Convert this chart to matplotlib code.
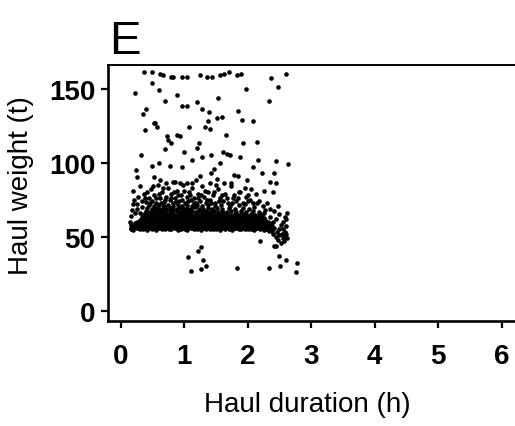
import matplotlib
matplotlib.use("Agg")
import matplotlib.pyplot as plt

plt.rcParams['font.family'] = ['Liberation Sans', 'DejaVu Sans']

# ---- data: haul duration (h), haul weight (t) ----
# dense band near the 55 t floor
band_pts = [
    (0.16,55.2),(0.20,54.6),(0.25,55.8),(0.31,55.0),(0.35,55.4),(0.41,54.8),(0.45,55.6),(0.50,55.1),(0.56,54.7),(0.61,55.9),
    (0.65,55.3),(0.70,54.9),(0.76,55.5),(0.80,55.0),(0.86,55.7),(0.91,54.6),(0.95,55.4),(1.01,55.2),(1.05,54.8),(1.10,55.6),
    (1.16,55.0),(1.20,55.3),(1.26,54.7),(1.30,55.8),(1.35,55.1),(1.41,54.9),(1.45,55.5),(1.50,55.2),(1.56,54.6),(1.60,55.7),
    (1.65,55.0),(1.71,55.4),(1.75,54.8),(1.80,55.6),(1.86,55.1),(1.90,54.9),(1.95,55.5),(2.01,55.0),(2.05,55.3),(2.10,54.7),
    (2.15,55.6),(2.20,55.2),(2.26,54.8),(2.30,55.4),(2.35,54.9),
    (0.18,57.1),(0.23,56.4),(0.28,57.6),(0.33,56.8),(0.38,57.9),(0.43,56.3),(0.48,57.3),(0.53,56.9),(0.58,57.7),(0.63,56.5),
    (0.68,57.2),(0.73,57.8),(0.78,56.6),(0.83,57.4),(0.88,56.9),(0.93,57.6),(0.98,56.4),(1.03,57.1),(1.08,57.8),(1.13,56.7),
    (1.18,57.3),(1.23,56.5),(1.28,57.7),(1.33,57.0),(1.38,56.4),(1.43,57.5),(1.48,56.8),(1.53,57.9),(1.58,56.6),(1.63,57.2),
    (1.68,57.6),(1.73,56.5),(1.78,57.3),(1.83,56.9),(1.88,57.8),(1.93,56.4),(1.98,57.1),(2.03,57.6),(2.08,56.7),(2.13,57.4),
    (2.18,56.8),(2.23,57.5),(2.28,56.6),(2.33,57.2),(2.38,56.9),
    (0.22,59.4),(0.29,58.6),(0.34,59.8),(0.39,58.9),(0.44,59.5),(0.49,58.4),(0.54,59.9),(0.59,59.1),(0.64,58.5),(0.69,59.6),
    (0.74,59.0),(0.79,58.7),(0.84,59.8),(0.89,59.2),(0.94,58.4),(0.99,59.5),(1.04,58.9),(1.09,59.7),(1.14,58.6),(1.19,59.3),
    (1.24,59.9),(1.29,58.8),(1.34,59.4),(1.39,58.5),(1.44,59.7),(1.49,59.0),(1.54,58.6),(1.59,59.6),(1.64,59.1),(1.69,58.4),
    (1.74,59.8),(1.79,58.9),(1.84,59.4),(1.89,58.7),(1.94,59.9),(1.99,59.2),(2.04,58.5),(2.09,59.6),(2.14,58.8),(2.19,59.3),
    (2.24,58.6),(2.29,59.7),(2.34,58.9),
    (0.30,61.2),(0.36,60.5),(0.41,61.7),(0.46,60.8),(0.51,61.4),(0.56,60.4),(0.61,61.9),(0.66,61.0),(0.71,60.6),(0.76,61.6),
    (0.81,60.9),(0.86,61.3),(0.91,60.5),(0.96,61.8),(1.01,61.1),(1.06,60.7),(1.11,61.5),(1.16,60.4),(1.21,61.2),(1.26,61.8),
    (1.31,60.6),(1.36,61.4),(1.41,60.9),(1.46,61.7),(1.51,60.5),(1.56,61.1),(1.61,61.6),(1.66,60.8),(1.71,61.3),(1.76,60.4),
    (1.81,61.9),(1.86,61.0),(1.91,60.6),(1.96,61.5),(2.01,60.9),(2.06,61.4),(2.11,60.7),(2.16,61.8),(2.22,60.8),(2.28,61.3),
    (0.33,63.1),(0.39,62.6),(0.44,63.7),(0.49,62.9),(0.54,63.4),(0.59,62.5),(0.64,63.8),(0.69,63.0),(0.74,62.7),(0.79,63.6),
    (0.84,62.8),(0.89,63.3),(0.94,62.4),(0.99,63.9),(1.04,63.1),(1.09,62.6),(1.14,63.5),(1.19,62.9),(1.24,63.4),(1.29,62.5),
    (1.34,63.7),(1.39,63.0),(1.44,62.6),(1.49,63.5),(1.54,62.8),(1.59,63.2),(1.64,62.5),(1.69,63.8),(1.74,63.0),(1.79,62.7),
    (1.84,63.4),(1.89,62.9),(1.95,63.6),(2.00,62.6),(2.06,63.3),(2.12,62.8),(2.18,63.5),(2.25,62.9),
    (0.37,65.2),(0.43,64.6),(0.48,65.7),(0.53,64.9),(0.58,65.4),(0.63,64.5),(0.68,65.8),(0.73,65.0),(0.78,64.7),(0.83,65.5),
    (0.88,64.8),(0.93,65.3),(0.98,64.6),(1.03,65.9),(1.08,65.1),(1.13,64.7),(1.18,65.4),(1.23,64.9),(1.28,65.6),(1.33,64.5),
    (1.38,65.2),(1.43,65.8),(1.48,64.8),(1.53,65.4),(1.58,64.6),(1.63,65.7),(1.68,65.0),(1.74,64.7),(1.80,65.5),(1.86,64.9),
    (1.92,65.3),(1.98,64.6),(2.05,65.6),(2.12,64.8),(2.20,65.2),
    (0.40,67.3),(0.46,66.6),(0.52,67.6),(0.57,66.9),(0.62,67.4),(0.67,66.5),(0.72,67.8),(0.77,67.0),(0.82,66.7),(0.88,67.5),
    (0.93,66.8),(0.98,67.3),(1.03,66.6),(1.08,67.7),(1.13,67.0),(1.18,66.7),(1.23,67.4),(1.29,66.9),(1.35,67.6),(1.41,66.5),
    (1.47,67.2),(1.53,66.8),(1.60,67.5),(1.67,66.7),(1.74,67.3),(1.82,66.9),(1.90,67.6),(1.97,66.6),(2.08,67.2),(2.18,66.8),
    (0.42,69.2),(0.49,68.7),(0.55,69.6),(0.61,68.8),(0.66,69.4),(0.72,68.6),(0.77,69.7),(0.83,69.0),(0.88,68.6),(0.94,69.5),
    (1.00,68.9),(1.05,69.3),(1.11,68.7),(1.17,69.8),(1.23,69.0),(1.30,68.6),(1.37,69.4),(1.44,68.8),(1.52,69.6),(1.60,68.7),
    (1.70,69.3),(1.80,68.9),(1.92,69.5),(2.02,68.7),
    (0.45,71.1),(0.53,70.6),(0.60,71.5),(0.68,70.8),(0.75,71.3),(0.82,70.5),(0.90,71.6),(0.97,70.9),(1.04,71.4),(1.12,70.7),
    (1.20,71.2),(1.28,70.6),(1.38,71.5),(1.48,70.8),(1.58,71.3),(1.72,70.7),(1.86,71.2),
]

# extra hauls filling the densest part of the band (56-64 t)
fill_pts = [
    (0.17,56.0),(0.22,56.3),(0.27,55.8),(0.32,56.2),(0.37,55.9),(0.42,56.4),(0.47,56.0),(0.52,55.7),(0.57,56.3),(0.62,56.1),
    (0.67,55.8),(0.72,56.4),(0.77,56.0),(0.82,56.2),(0.87,55.9),(0.92,56.3),(0.97,56.1),(1.02,55.8),(1.07,56.4),(1.12,56.0),
    (1.17,56.2),(1.22,55.9),(1.27,56.3),(1.32,56.1),(1.37,55.7),(1.42,56.2),(1.47,56.0),(1.52,56.4),(1.57,55.9),(1.62,56.1),
    (1.67,56.3),(1.72,55.8),(1.77,56.2),(1.82,56.0),(1.87,56.4),(1.92,55.9),(1.97,56.1),(2.02,56.3),(2.07,55.8),(2.12,56.2),
    (2.17,56.0),(2.22,56.4),(2.27,55.9),(2.32,56.1),(2.37,55.8),
    (0.20,58.1),(0.25,57.9),(0.31,58.3),(0.36,58.0),(0.41,58.2),(0.46,57.8),(0.51,58.4),(0.56,58.0),(0.61,58.2),(0.66,57.9),
    (0.71,58.3),(0.76,58.1),(0.81,57.8),(0.86,58.2),(0.91,58.0),(0.96,58.4),(1.01,57.9),(1.06,58.1),(1.11,58.3),(1.16,57.8),
    (1.21,58.2),(1.26,58.0),(1.31,58.4),(1.36,57.9),(1.41,58.1),(1.46,58.3),(1.51,57.8),(1.56,58.2),(1.61,58.0),(1.66,58.4),
    (1.71,57.9),(1.76,58.1),(1.81,58.3),(1.86,57.8),(1.91,58.2),(1.96,58.0),(2.01,58.4),(2.06,57.9),(2.11,58.1),(2.16,58.3),
    (2.21,57.8),(2.26,58.2),(2.31,58.0),(2.36,58.3),
    (0.26,60.0),(0.32,60.3),(0.37,59.8),(0.42,60.2),(0.47,60.0),(0.52,60.4),(0.57,59.9),(0.62,60.1),(0.67,60.3),(0.72,59.8),
    (0.77,60.2),(0.82,60.0),(0.87,60.4),(0.92,59.9),(0.97,60.1),(1.02,60.3),(1.07,59.8),(1.12,60.2),(1.17,60.0),(1.22,60.4),
    (1.27,59.9),(1.32,60.1),(1.37,60.3),(1.42,59.8),(1.47,60.2),(1.52,60.0),(1.57,60.4),(1.62,59.9),(1.67,60.1),(1.72,60.3),
    (1.77,59.8),(1.82,60.2),(1.87,60.0),(1.92,60.4),(1.97,59.9),(2.02,60.1),(2.07,60.3),(2.12,59.8),(2.17,60.2),(2.22,60.0),
    (2.27,60.4),(2.32,59.9),
    (0.34,62.0),(0.38,62.3),(0.43,61.8),(0.48,62.2),(0.53,62.0),(0.58,62.4),(0.63,61.9),(0.68,62.1),(0.73,62.3),(0.78,61.8),
    (0.83,62.2),(0.88,62.0),(0.93,62.4),(0.98,61.9),(1.03,62.1),(1.08,62.3),(1.13,61.8),(1.18,62.2),(1.23,62.0),(1.28,62.4),
    (1.33,61.9),(1.38,62.1),(1.43,62.3),(1.48,61.8),(1.53,62.2),(1.58,62.0),(1.63,62.4),(1.68,61.9),(1.73,62.1),(1.78,62.3),
    (1.83,61.8),(1.88,62.2),(1.93,62.0),(1.98,62.4),(2.03,61.9),(2.09,62.1),(2.14,62.3),(2.20,61.8),(2.26,62.2),
    (0.35,64.0),(0.41,64.3),(0.46,63.8),(0.51,64.2),(0.56,64.0),(0.61,64.4),(0.66,63.9),(0.71,64.1),(0.76,64.3),(0.81,63.8),
    (0.86,64.2),(0.91,64.0),(0.96,64.4),(1.01,63.9),(1.06,64.1),(1.11,64.3),(1.16,63.8),(1.21,64.2),(1.26,64.0),(1.31,64.4),
    (1.36,63.9),(1.41,64.1),(1.46,64.3),(1.51,63.8),(1.56,64.2),(1.61,64.0),(1.66,64.4),(1.71,63.9),(1.77,64.1),(1.83,64.3),
    (1.89,63.8),(1.95,64.2),(2.02,64.0),(2.09,64.4),(2.16,63.9),
]

# speckled zone above the band
mid_pts = [
    (0.20,81),(0.21,75),(0.25,72),(0.28,77),(0.33,74),(0.36,79),(0.40,73.5),(0.44,76),(0.47,82),(0.50,74),
    (0.53,78),(0.56,73),(0.58,85),(0.62,76),(0.65,80),(0.68,73.5),(0.71,77),(0.74,83),(0.77,74.5),(0.80,79),
    (0.83,72.5),(0.86,76),(0.89,81),(0.92,74),(0.95,78),(0.98,85),(1.01,73),(1.04,77),(1.07,80),(1.10,74.5),
    (1.13,83),(1.16,76),(1.19,72.5),(1.22,79),(1.25,74),(1.28,84),(1.31,77),(1.34,73),(1.37,80),(1.41,75),
    (1.45,78),(1.49,73),(1.53,82),(1.57,76),(1.61,74),(1.65,79),(1.69,73),(1.73,84),(1.77,76),(1.82,74),
    (1.87,80),(1.92,73),(1.97,77),(2.03,75),(2.08,72.5),(2.13,79),(2.18,74),(2.24,71),(2.30,73),(2.35,69),
    (0.30,84),(0.15,60),(0.16,58),(0.62,88),(0.85,87),(1.18,88),(1.40,86),(1.63,86),(2.25,66),(2.22,64),
    (0.17,64),(0.18,68),(0.19,72),(0.22,66),(0.26,69),(0.30,66),(0.34,70),(0.38,76),(0.42,80),(0.46,72.5),
    (0.51,84),(0.55,76),(0.60,79),(0.64,73),(0.67,83),(0.70,75),(0.79,76),(0.84,80),(0.87,73.5),(0.91,78),
    (0.97,75),(1.00,81),(1.06,74),(1.09,78),(1.15,73),(1.21,76),(1.27,78),(1.32,81),(1.36,75),(1.43,73),
    (1.47,80),(1.55,74),(1.59,78),(1.67,76),(1.75,72.5),(1.79,78),(1.85,76),(1.95,72),(2.00,74),(2.10,70),
    (2.15,72.5),(2.27,68),(2.05,82),(1.12,86),(0.72,86),(1.50,85),(1.95,83),
]

# right-hand tail of the band
tail_pts = [
    (2.38,54),(2.40,52),(2.42,56),(2.44,50),(2.46,53),(2.48,48),(2.50,55),(2.50,51),(2.52,46),(2.53,58),
    (2.54,52),(2.55,49),(2.56,55),(2.57,47),(2.58,53),(2.59,50),(2.60,57),(2.61,52),(2.62,49),(2.40,60),
    (2.45,62),(2.50,65),(2.55,60),(2.60,62),(2.62,66),(2.58,63),(2.35,63),(2.42,67),(2.30,58),(2.33,54),
    (2.36,57),
]

# sparse upper points
upper_pts = [
    (0.37,161),(0.49,161),(0.62,160),(0.67,159),(0.80,158),(0.83,158),(0.96,158),(1.04,158),
    (1.25,159),(1.36,158),(1.44,158),(1.57,159),(1.62,160),(1.70,161),(1.83,159),(1.90,160),
    (2.36,157),(2.47,151),(2.60,160),
    (0.22,147),(0.49,154),(0.61,149),(0.69,142),(0.88,146),(0.96,138),(1.04,138),(1.20,141),(1.28,136),
    (1.39,134),(1.37,128),(1.54,144),(1.60,131),(1.85,135),(1.98,150),(2.09,128),(2.33,142),(1.91,129),
    (0.35,133),(0.40,136),(0.38,122),(0.52,127),(0.54,127),(0.57,124),(0.73,118),(0.75,115),(0.70,109),
    (0.80,113),(0.88,119),(0.93,118),(0.99,107),(1.07,124),(1.20,110),(1.24,113),(1.33,124),(1.40,123),
    (1.52,130),(1.66,119),(1.61,107),(1.93,113),(2.15,114),
    (0.32,105),(0.24,95),(0.25,90),(0.49,98),(0.60,100),(0.78,98),(0.96,97),(1.12,102),(1.28,104),
    (1.42,105),(1.47,96),(1.42,93),(1.57,100),(1.67,106),(1.72,105),(1.88,104),(2.09,97),(2.17,102),
    (2.23,93),(2.41,93),(2.44,101),(2.63,99),(2.35,87),(2.44,86),(2.40,80),(2.47,71),(1.78,92),(1.85,91),
    (1.99,88),(0.52,90),(0.83,87),(0.94,86),(1.04,86),(1.25,91),(1.52,89),(1.73,86),(1.88,80),(2.01,78),
    (2.26,81),
]

# low outliers
low_pts = [
    (1.06,36),(1.11,27),(1.22,40),(1.27,43),(1.26,28),(1.34,30),(1.30,34),(1.83,29),(2.19,47),(2.34,29),
    (2.50,37),(2.51,30),(2.61,34),(2.76,26),(2.77,32),(2.41,44),(2.45,44),
]

x_ticks = [0, 1, 2, 3, 4, 5, 6]
y_ticks = [0, 50, 100, 150]

W, H = 515, 427
fig = plt.figure(figsize=(W / 100, H / 100), dpi=100)
ax = fig.add_axes([108 / W, 105 / H, 1 - 108 / W, (322 - 66) / H])

for pts in (band_pts, fill_pts, mid_pts, tail_pts, upper_pts, low_pts):
    xs = [p[0] for p in pts]
    ys = [p[1] for p in pts]
    ax.scatter(xs, ys, s=11, c='black', linewidths=0, marker='o')

ax.set_xlim(-0.2, 6.21)
ax.set_ylim(-7, 166)
ax.set_xticks(x_ticks)
ax.set_yticks(y_ticks)
ax.spines['right'].set_visible(False)
ax.spines['top'].set_linewidth(1.4)
ax.spines['left'].set_linewidth(1.9)
ax.spines['bottom'].set_linewidth(1.9)
ax.tick_params(axis='both', direction='out', length=5, width=1.6, labelsize=20)
ax.tick_params(axis='x', pad=11)
ax.tick_params(axis='y', pad=4)
for lab in ax.get_xticklabels() + ax.get_yticklabels():
    lab.set_fontweight('bold')

fig.text(21 / W, 1 - 186 / H, 'Haul weight (t)', rotation=90, ha='center', va='center', fontsize=20)
fig.text(307 / W, 1 - 405 / H, 'Haul duration (h)', ha='center', va='center', fontsize=20)
fig.text(109 / W, 1 - 53.5 / H, 'E', ha='left', va='baseline', fontsize=34)

fig.savefig('out.png', dpi=100)
